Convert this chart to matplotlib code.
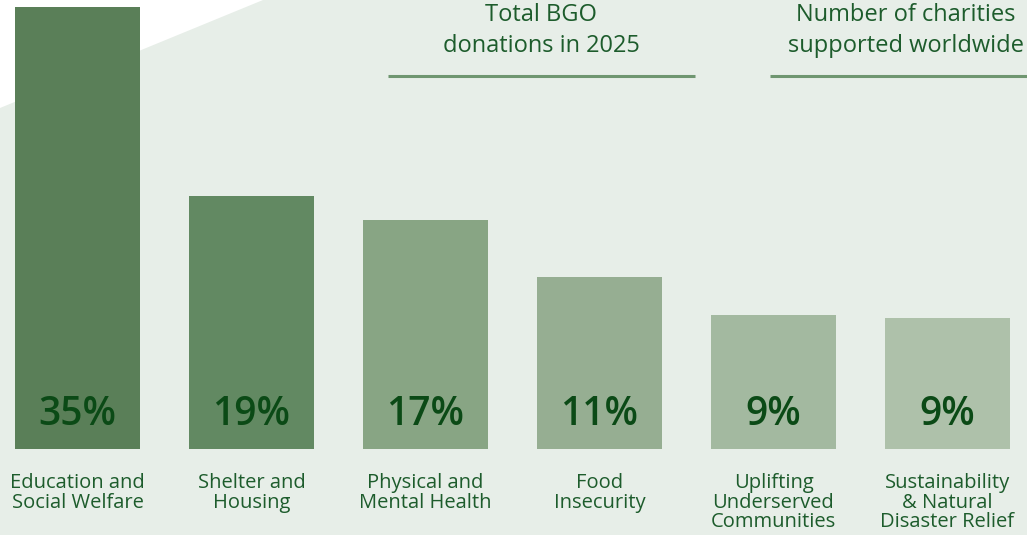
import matplotlib
matplotlib.use("Agg")
import matplotlib.pyplot as plt
from matplotlib.patches import Polygon

categories = ["Education and\nSocial Welfare", "Shelter and\nHousing", "Physical and\nMental Health",
              "Food\nInsecurity", "Uplifting\nUnderserved\nCommunities", "Sustainability\n& Natural\nDisaster Relief"]
pct_labels = ["35%", "19%", "17%", "11%", "9%", "9%"]
bar_heights = [442, 253, 229, 172, 134, 131]
bar_colors = ["#5a7f58", "#628962", "#88a584", "#96ae92", "#a3b9a0", "#aec1aa"]

plt.rcParams['font.family'] = ['Open Sans', 'DejaVu Sans']

W, H = 1027, 535
fig = plt.figure(figsize=(W/100, H/100), dpi=100)
ax = fig.add_axes([0, 0, 1, 1])
base = 449
ax.set_xlim(0, W)
ax.set_ylim(base - H, base)
ax.axis('off')

bg = "#e7eee8"
fig.patch.set_facecolor(bg)
ax.add_patch(Polygon([(0, base), (263, base), (0, base - 108)], closed=True, facecolor="white", edgecolor="none", zorder=0))

xs = [77.5 + 174*i for i in range(len(categories))]
ax.bar(xs, bar_heights, width=125, color=bar_colors, zorder=2)

txt = "#1d5c2c"
for x, p, c in zip(xs, pct_labels, categories):
    ax.text(x, base - 415, p, ha='center', va='center', fontsize=28, fontweight='semibold', color="#0b4a16", zorder=3)
    ax.text(x, base - 473, c, ha='center', va='top', fontsize=14.5, color=txt, linespacing=0.98)

ax.text(541, base - 3, "Total BGO\ndonations in 2025", ha='center', va='top', fontsize=17, color=txt, linespacing=1.38)
ax.text(906, base - 3, "Number of charities\nsupported worldwide", ha='center', va='top', fontsize=17, color=txt, linespacing=1.38)
ax.plot([388, 695], [base - 76, base - 76], color="#6f9670", lw=2.2, solid_capstyle='butt')
ax.plot([770, 1027], [base - 76, base - 76], color="#6f9670", lw=2.2, solid_capstyle='butt')

fig.savefig("out.png", dpi=100, facecolor=bg)
